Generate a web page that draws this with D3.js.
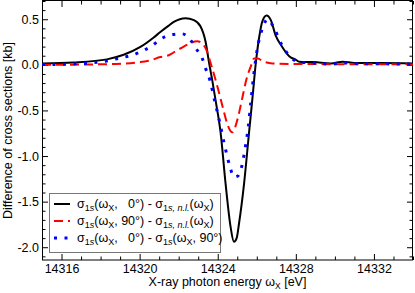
<html>
<head>
<style>
  body { margin: 0; background: #fff; }
  svg { display: block; }
  text { font-family: "Liberation Sans", Arial, sans-serif; }
</style>
</head>
<body>
<script src="https://d3js.org/d3.v7.min.js"></script>
<script>
// curve values
const energyBlack = [14315, 14316.61, 14318.32, 14319.18, 14320.04, 14320.72, 14321.06, 14321.49, 14321.75, 14322.35, 14322.78, 14323.12, 14323.38, 14323.55, 14323.72, 14323.89, 14324.15, 14324.40, 14324.66, 14324.83, 14324.97, 14325.09, 14325.35, 14325.60, 14325.78, 14325.95, 14326.12, 14326.29, 14326.50, 14326.72, 14326.97, 14327.23, 14327.66, 14328.00, 14328.17, 14328.94, 14329.80, 14330.40, 14331.00, 14332.37, 14334];
const diffBlack = [0.014, 0.025, 0.06, 0.11, 0.196, 0.30, 0.36, 0.43, 0.47, 0.51, 0.49, 0.42, 0.25, 0.03, -0.17, -0.39, -0.75, -1.30, -1.78, -1.94, -1.90, -1.74, -1.30, -0.75, -0.36, 0.02, 0.30, 0.48, 0.54, 0.49, 0.32, 0.22, 0.095, 0.055, 0.035, 0.03, 0.015, 0.035, 0.02, 0.02, 0.015];

const energyRed = [14315, 14318.32, 14320.04, 14320.55, 14321.06, 14321.49, 14321.92, 14322.26, 14322.52, 14322.95, 14323.17, 14323.38, 14323.72, 14324.06, 14324.30, 14324.51, 14324.75, 14325.01, 14325.26, 14325.48, 14325.69, 14325.86, 14326.05, 14326.31, 14326.80, 14327.83, 14334];
const diffRed = [0.0, 0.007, 0.03, 0.05, 0.085, 0.105, 0.16, 0.2, 0.23, 0.26, 0.24, 0.18, -0.04, -0.30, -0.5, -0.66, -0.74, -0.6, -0.36, -0.15, -0.02, 0.07, 0.07, 0.04, 0.015, 0.01, 0.005];

const energyBlue = [14315, 14316.61, 14317.89, 14318.49, 14319.01, 14319.61, 14320.12, 14320.64, 14321.06, 14321.58, 14322.18, 14322.61, 14322.95, 14323.21, 14323.38, 14323.60, 14323.85, 14324.10, 14324.35, 14324.63, 14324.83, 14325.02, 14325.17, 14325.40, 14325.57, 14325.69, 14325.86, 14326.03, 14326.29, 14326.55, 14326.89, 14327.23, 14327.66, 14328.17, 14328.93, 14329.80, 14330.40, 14331.34, 14334];
const diffBlue = [0.003, 0.01, 0.03, 0.05, 0.076, 0.105, 0.15, 0.21, 0.28, 0.33, 0.34, 0.27, 0.16, 0.07, -0.04, -0.17, -0.40, -0.63, -0.88, -1.12, -1.23, -1.22, -1.16, -0.92, -0.67, -0.42, -0.08, 0.18, 0.40, 0.50, 0.40, 0.24, 0.10, 0.03, 0.02, 0.008, 0.02, 0.012, 0.01];

const xMajorTicks = [14316, 14320, 14324, 14328, 14332];
const yMajorTicks = [-2.0, -1.5, -1.0, -0.5, 0.0, 0.5];

// legend labels: [text, subscript?, italic?]
const legendLabels = [
  [["σ"], ["1", 1], ["s", 1, 1], ["(ω"], ["X", 1], [",   0°) - σ"], ["1", 1], ["s, n.l.", 1, 1], ["(ω"], ["X", 1], [")"]],
  [["σ"], ["1", 1], ["s", 1, 1], ["(ω"], ["X", 1], [", 90°) - σ"], ["1", 1], ["s, n.l.", 1, 1], ["(ω"], ["X", 1], [")"]],
  [["σ"], ["1", 1], ["s", 1, 1], ["(ω"], ["X", 1], [",   0°) - σ"], ["1", 1], ["s", 1, 1], ["(ω"], ["X", 1], [", 90°)"]]
];

var width = 415, height = 293;
var mLeft = 42, mRight = 413, mTop = 1, mBottom = 260;

var svg = d3.select("body").append("svg")
  .attr("width", width)
  .attr("height", height);

var x = d3.scaleLinear().domain([14315, 14334]).range([mLeft, mRight]);
var y = d3.scaleLinear().domain([-2.14, 0.7]).range([mBottom, mTop]);

var xMinor = d3.range(14315, 14334.5, 1).filter(v => !xMajorTicks.includes(v));
var yMinor = d3.range(-21, 8, 1).map(v => v / 10).filter(v => Math.abs(v * 2 - Math.round(v * 2)) > 1e-6);

function axisStyle(g) {
  g.select(".domain").remove();
  g.selectAll("line").attr("stroke", "#000");
  g.selectAll("text").attr("font-size", 12.5).attr("fill", "#000")
    .attr("font-family", "'Liberation Sans', Arial, sans-serif");
}

// bottom
svg.append("g").attr("transform", `translate(0,${mBottom})`)
  .call(d3.axisBottom(x).tickValues(xMajorTicks).tickFormat(d3.format("d")).tickSize(-6).tickPadding(4))
  .call(axisStyle);
svg.append("g").attr("transform", `translate(0,${mBottom})`)
  .call(d3.axisBottom(x).tickValues(xMinor).tickFormat("").tickSize(-3.5))
  .call(axisStyle);
// top
svg.append("g").attr("transform", `translate(0,${mTop})`)
  .call(d3.axisTop(x).tickValues(xMajorTicks).tickFormat("").tickSize(-6))
  .call(axisStyle);
svg.append("g").attr("transform", `translate(0,${mTop})`)
  .call(d3.axisTop(x).tickValues(xMinor).tickFormat("").tickSize(-3.5))
  .call(axisStyle);
// left
svg.append("g").attr("transform", `translate(${mLeft},0)`)
  .call(d3.axisLeft(y).tickValues(yMajorTicks).tickFormat(d => d.toFixed(1)).tickSize(-6).tickPadding(3))
  .call(axisStyle);
svg.append("g").attr("transform", `translate(${mLeft},0)`)
  .call(d3.axisLeft(y).tickValues(yMinor).tickFormat("").tickSize(-3.5))
  .call(axisStyle);
// right
svg.append("g").attr("transform", `translate(${mRight},0)`)
  .call(d3.axisRight(y).tickValues(yMajorTicks).tickFormat("").tickSize(-6))
  .call(axisStyle);
svg.append("g").attr("transform", `translate(${mRight},0)`)
  .call(d3.axisRight(y).tickValues(yMinor).tickFormat("").tickSize(-3.5))
  .call(axisStyle);

svg.append("rect")
  .attr("x", mLeft + 0.5).attr("y", mTop - 0.5)
  .attr("width", mRight - mLeft - 1).attr("height", mBottom - mTop + 0.5)
  .attr("fill", "none").attr("stroke", "#000").attr("stroke-width", 1);

svg.append("clipPath").attr("id", "clip")
  .append("rect").attr("x", mLeft).attr("y", mTop).attr("width", mRight - mLeft).attr("height", mBottom - mTop);

var line = d3.line()
  .x(d => x(d[0]))
  .y(d => y(d[1]))
  .curve(d3.curveMonotoneX);

var series = [
  { xs: energyBlack, ys: diffBlack, color: "#000", w: 2, dash: null },
  { xs: energyRed, ys: diffRed, color: "#ff0000", w: 2, dash: "9,5" },
  { xs: energyBlue, ys: diffBlue, color: "#0000ff", w: 3, dash: "3,7.5" }
];

var plot = svg.append("g").attr("clip-path", "url(#clip)");
series.forEach(s => {
  plot.append("path")
    .datum(d3.zip(s.xs, s.ys))
    .attr("d", line)
    .attr("fill", "none")
    .attr("stroke", s.color)
    .attr("stroke-width", s.w)
    .attr("stroke-dasharray", s.dash);
});

// legend
var lg = svg.append("g");
lg.append("rect")
  .attr("x", 49.5).attr("y", 193.5).attr("width", 171).attr("height", 59)
  .attr("fill", "#fff").attr("stroke", "#777").attr("stroke-width", 1);

series.forEach((s, i) => {
  var ly = 204 + i * 17;
  lg.append("line")
    .attr("x1", 54).attr("x2", 70).attr("y1", ly).attr("y2", ly)
    .attr("stroke", s.color).attr("stroke-width", s.w)
    .attr("stroke-dasharray", s.dash);
  var t = lg.append("text")
    .attr("x", 77).attr("y", ly + 4)
    .attr("font-size", 12.5)
    .style("white-space", "pre");
  var shift = 0;
  legendLabels[i].forEach(p => {
    var target = p[1] ? 3 : 0;
    var ts = t.append("tspan").text(p[0]).attr("dy", target - shift);
    if (p[1]) ts.attr("font-size", 9);
    if (p[2]) ts.attr("font-style", "italic");
    shift = target;
  });
});

// axis titles
svg.append("text")
  .attr("transform", `translate(12,${(mTop + mBottom) / 2}) rotate(-90)`)
  .attr("text-anchor", "middle")
  .attr("font-size", 12.5)
  .text("Difference of cross sections [kb]");

var xt = svg.append("text")
  .attr("x", (mLeft + mRight) / 2).attr("y", 286)
  .attr("text-anchor", "middle")
  .attr("font-size", 12.5);
xt.append("tspan").text("X-ray photon energy ω");
xt.append("tspan").text("X").attr("font-size", 8.5).attr("dy", 3);
xt.append("tspan").text(" [eV]").attr("dy", -3);
</script>
</body>
</html>
